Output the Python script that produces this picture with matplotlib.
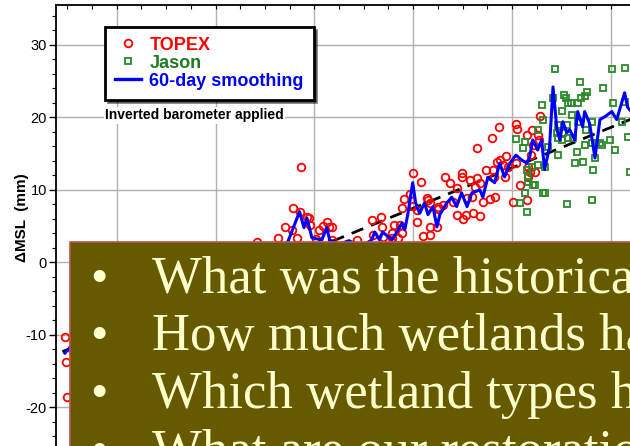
import matplotlib
matplotlib.use("Agg")
import matplotlib.pyplot as plt
from matplotlib.lines import Line2D
from matplotlib.patches import Rectangle
from matplotlib.ticker import MultipleLocator

plt.rcParams["axes.unicode_minus"] = False

# TOPEX cycle means (year, mm)
topex_t = [1992.95, 1992.97, 1992.99, 1993.10, 1993.20, 1993.30, 1993.40, 1993.50, 1993.60,
           1993.70, 1993.80, 1993.90, 1994.00, 1994.10, 1994.20, 1994.30, 1994.40, 1994.50,
           1994.60, 1994.70, 1994.80, 1994.90, 1995.00, 1995.10, 1995.20, 1995.30, 1995.40,
           1995.50, 1995.60, 1995.70, 1995.80, 1995.90, 1996.00, 1996.10, 1996.20, 1996.30,
           1996.40, 1996.50, 1996.60, 1996.70, 1996.83, 1996.90, 1997.00, 1997.10, 1997.20,
           1997.26, 1997.40, 1997.54, 1997.56, 1997.64, 1997.70, 1997.72, 1997.85, 1997.89,
           1997.91, 1998.03, 1998.09, 1998.17, 1998.25, 1998.29, 1998.35, 1998.35, 1998.50,
           1998.62, 1998.75, 1998.86, 1999.00, 1999.16, 1999.18, 1999.34, 1999.36, 1999.38,
           1999.57, 1999.57, 1999.61, 1999.69, 1999.73, 1999.77, 1999.77, 1999.81, 1999.93,
           1999.99, 1999.99, 2000.07, 2000.07, 2000.15, 2000.19, 2000.28, 2000.30, 2000.34,
           2000.34, 2000.34, 2000.48, 2000.50, 2000.50, 2000.60, 2000.64, 2000.74, 2000.80,
           2000.88, 2000.88, 2000.98, 2000.98, 2001.00, 2001.06, 2001.09, 2001.15, 2001.19,
           2001.21, 2001.25, 2001.29, 2001.29, 2001.35, 2001.35, 2001.41, 2001.47, 2001.55,
           2001.59, 2001.61, 2001.63, 2001.65, 2001.69, 2001.73, 2001.75, 2001.81, 2001.85,
           2001.87, 2001.91, 2002.02, 2002.08, 2002.08, 2002.10, 2002.16, 2002.30, 2002.30,
           2002.32, 2002.32, 2002.36, 2002.38, 2002.40, 2002.42, 2002.46, 2002.52, 2002.54,
           2002.56]
topex_mm = [-10.3, -13.7, -18.6, -12.0, -9.5, -14.0, -11.2, -8.6, -10.4,
            -12.8, -9.1, -7.5, -8.8, -10.5, -6.9, -8.2, -5.5, -7.7,
            -9.3, -6.1, -4.8, -7.0, -5.6, -3.9, -6.4, -4.4, -2.8,
            -5.1, -3.3, -6.0, -2.2, -4.0, -1.5, -3.6, -0.8, -2.9,
            0.5, -1.7, 1.2, -0.6, 2.8, 1.5, 0.2, 1.9, -0.5,
            3.4, 4.9, 4.5, 7.5, 3.4, 7.0, 13.2, 6.3, 6.1,
            5.2, 3.2, 4.5, 5.0, 5.6, 4.9, 3.1, 4.9, 1.8,
            2.4, 0.9, 3.1, 1.6, 5.9, 3.8, 6.3, 4.9, 3.5,
            4.1, 3.4, 5.2, 3.4, 5.2, 7.5, 4.1, 8.8, 9.4,
            12.3, 7.8, 7.2, 5.6, 11.1, 3.7, 8.9, 8.6, 8.2,
            4.9, 3.8, 4.9, 7.4, 7.7, 7.9, 11.8, 11.0, 8.3,
            10.3, 6.6, 12.3, 11.8, 6.0, 6.6, 8.9, 11.4, 9.0,
            6.8, 10.4, 15.8, 11.7, 11.0, 6.4, 8.3, 12.8, 8.8,
            17.2, 12.8, 11.8, 9.0, 13.9, 18.7, 14.1, 13.4, 11.8,
            14.7, 13.2, 8.3, 13.7, 19.1, 18.4, 10.7, 17.6, 8.6,
            13.2, 11.8, 12.5, 14.8, 18.3, 16.2, 12.5, 17.6, 16.9,
            20.2]

# Jason-1 cycle means
jason_t = [2002.08, 2002.16, 2002.22, 2002.26, 2002.26, 2002.30, 2002.30, 2002.32, 2002.32,
           2002.40, 2002.42, 2002.46, 2002.52, 2002.52, 2002.60, 2002.62, 2002.62, 2002.66,
           2002.66, 2002.72, 2002.83, 2002.87, 2002.91, 2002.93, 2002.93, 2002.93, 2003.01,
           2003.01, 2003.03, 2003.05, 2003.09, 2003.11, 2003.11, 2003.13, 2003.13, 2003.19,
           2003.21, 2003.23, 2003.27, 2003.31, 2003.33, 2003.33, 2003.37, 2003.39, 2003.43,
           2003.47, 2003.47, 2003.49, 2003.51, 2003.62, 2003.62, 2003.62, 2003.64, 2003.68,
           2003.78, 2003.82, 2003.84, 2003.98, 2004.02, 2004.04, 2004.08, 2004.22, 2004.28,
           2004.28, 2004.34, 2004.38]
jason_mm = [17.0, 8.2, 15.8, 16.6, 9.6, 7.0, 12.8, 11.1, 11.8,
            13.2, 10.7, 10.7, 13.4, 18.3, 21.7, 19.7, 9.6, 13.2,
            9.6, 15.9, 22.7, 26.7, 17.9, 19.0, 17.2, 14.8, 20.9,
            16.9, 17.9, 23.1, 22.7, 19.0, 8.1, 17.2, 22.0, 22.0,
            20.3, 17.2, 13.7, 15.2, 22.0, 19.4, 24.9, 22.7, 13.9,
            23.0, 16.2, 18.3, 23.5, 19.4, 16.5, 8.6, 12.8, 14.4,
            16.5, 16.2, 24.1, 16.9, 26.7, 22.0, 15.5, 19.4, 26.8,
            22.1, 17.3, 12.5]

# 60-day smoothing
smooth_t = [1992.95, 1993.15, 1993.35, 1993.55, 1993.75, 1993.95, 1994.15, 1994.35, 1994.55,
            1994.75, 1994.95, 1995.15, 1995.35, 1995.55, 1995.75, 1995.95, 1996.15, 1996.35,
            1996.55, 1996.75, 1996.95, 1997.15, 1997.30, 1997.46, 1997.70, 1997.79, 1997.85,
            1997.95, 1998.15, 1998.25, 1998.31, 1998.50, 1998.70, 1998.95, 1999.16, 1999.22,
            1999.32, 1999.38, 1999.57, 1999.67, 1999.77, 1999.83, 1999.89, 1999.99, 2000.05,
            2000.13, 2000.23, 2000.30, 2000.40, 2000.48, 2000.54, 2000.68, 2000.78, 2000.88,
            2000.98, 2001.09, 2001.19, 2001.35, 2001.41, 2001.51, 2001.65, 2001.75, 2001.85,
            2001.96, 2002.08, 2002.20, 2002.30, 2002.36, 2002.42, 2002.52, 2002.60, 2002.66,
            2002.76, 2002.83, 2002.91, 2002.97, 2003.03, 2003.11, 2003.17, 2003.27, 2003.33,
            2003.43, 2003.47, 2003.57, 2003.68, 2003.78, 2003.88, 2004.02, 2004.12, 2004.28,
            2004.34, 2004.45]
smooth_mm = [-12.5, -11.0, -12.2, -10.0, -10.8, -8.6, -8.9, -7.0, -7.9,
             -5.9, -5.8, -4.8, -4.6, -3.9, -4.0, -2.6, -2.2, -1.1,
             -0.7, 0.3, 0.8, 1.2, 1.5, 2.8, 7.0, 4.8, 6.1,
             3.4, 3.1, 4.8, 3.1, 2.5, 3.0, 2.2, 3.1, 4.2,
             3.1, 4.2, 3.1, 4.2, 5.4, 4.5, 6.6, 11.0, 8.2,
             6.8, 8.2, 6.6, 7.7, 4.9, 6.6, 8.2, 9.0, 7.7,
             9.6, 7.7, 9.6, 10.0, 9.0, 11.7, 11.0, 13.7, 11.8,
             13.7, 14.8, 14.1, 13.7, 14.6, 16.9, 15.5, 16.9, 12.8,
             15.9, 24.2, 18.3, 16.9, 19.4, 17.9, 18.3, 16.9, 20.8,
             18.7, 20.8, 19.2, 14.4, 19.7, 20.1, 20.8, 19.7, 23.4,
             21.4, 20.5]

# linear trend
trend_t = [1992.9, 2005.5]
trend_mm = [-12.3, 22.8]

bullets = ["What was the historical",
           "How much wetlands have",
           "Which wetland types have",
           "What are our restoration"]

fig = plt.figure(figsize=(6.3, 4.46), dpi=100)
ax = fig.add_axes([56/630, -34/446, 653.6/630, 475/446])

ax.plot(trend_t, trend_mm, color="black", lw=2.0, dashes=(4.5, 3), zorder=2)
ax.plot(topex_t, topex_mm, "o", ms=5.5, mfc="none", mec="red", mew=1.3, zorder=3)
ax.plot(jason_t, jason_mm, "s", ms=5, mfc="none", mec="#2a8a2a", mew=1.3, zorder=3)
ax.plot(smooth_t, smooth_mm, color="blue", lw=2.2, zorder=4)

ax.set_xlim(1992.77, 2006.0)
ax.set_ylim(-30, 35.5)
ax.xaxis.set_major_locator(MultipleLocator(2))
ax.xaxis.set_minor_locator(MultipleLocator(0.5))
ax.yaxis.set_major_locator(MultipleLocator(10))
ax.yaxis.set_minor_locator(MultipleLocator(2))
ax.grid(True, which="major", color="#b0b0b0", lw=1.0)
ax.set_axisbelow(True)
for s in ax.spines.values():
    s.set_linewidth(1.3)
ax.tick_params(axis="y", which="major", direction="out", length=5, width=1,
               pad=1.5, labelsize=10.5)
ax.tick_params(axis="y", which="minor", direction="out", length=3, width=0.8)
ax.tick_params(axis="x", which="both", top=True, direction="in", length=3, width=0.8,
               labelbottom=False)
for lab in ax.get_yticklabels():
    lab.set_family("Liberation Sans")

handles = [Line2D([], [], marker="o", ls="none", ms=5.5, mfc="none", mec="red", mew=1.3),
           Line2D([], [], marker="s", ls="none", ms=5, mfc="none", mec="#2a8a2a", mew=1.3),
           Line2D([], [], color="blue", lw=2.4)]
leg = ax.legend(handles, ["TOPEX", "Jason", "60-day smoothing"],
                loc="upper left", bbox_to_anchor=(0.075, 0.954), borderaxespad=0,
                prop={"family": "Liberation Sans", "weight": "bold", "size": 13},
                labelcolor=["red", "#1f7a1f", "blue"], handlelength=1.45,
                handletextpad=0.45, labelspacing=0.05, borderpad=0.55,
                fancybox=False, framealpha=1,
                shadow={"color": "black", "ox": 2, "oy": -2})
leg.get_frame().set_edgecolor("black")
leg.get_frame().set_linewidth(2)

ax.text(0.075, 20.3, "Inverted barometer applied", transform=ax.get_yaxis_transform(),
        family="Liberation Sans", weight="bold", size=10, va="center", ha="left",
        bbox=dict(facecolor="white", edgecolor="none", pad=1))

fig.text(22/630, 1 - 218/446, "\u0394MSL  (mm)", rotation=90, ha="center", va="center",
         family="Liberation Sans", weight="bold", size=11)

# slide text box on top of the chart
box = Rectangle((70/630, -0.05), 1.0, (446 - 242)/446 + 0.05, transform=fig.transFigure,
                facecolor="#665a00", edgecolor="#c0504d", lw=1.2, zorder=5)
fig.add_artist(box)
baselines = [293, 350, 408, 466]
for b, line in zip(baselines, bullets):
    fig.text(99/630, (446 - b)/446, "\u2022", color="#ffffcc", ha="center", va="baseline",
             family="Liberation Serif", size=36, zorder=6)
    fig.text(152/630, (446 - b)/446, line, color="#ffffcc", ha="left", va="baseline",
             family="Liberation Serif", size=38, zorder=6)

fig.savefig("out.png", dpi=100)
